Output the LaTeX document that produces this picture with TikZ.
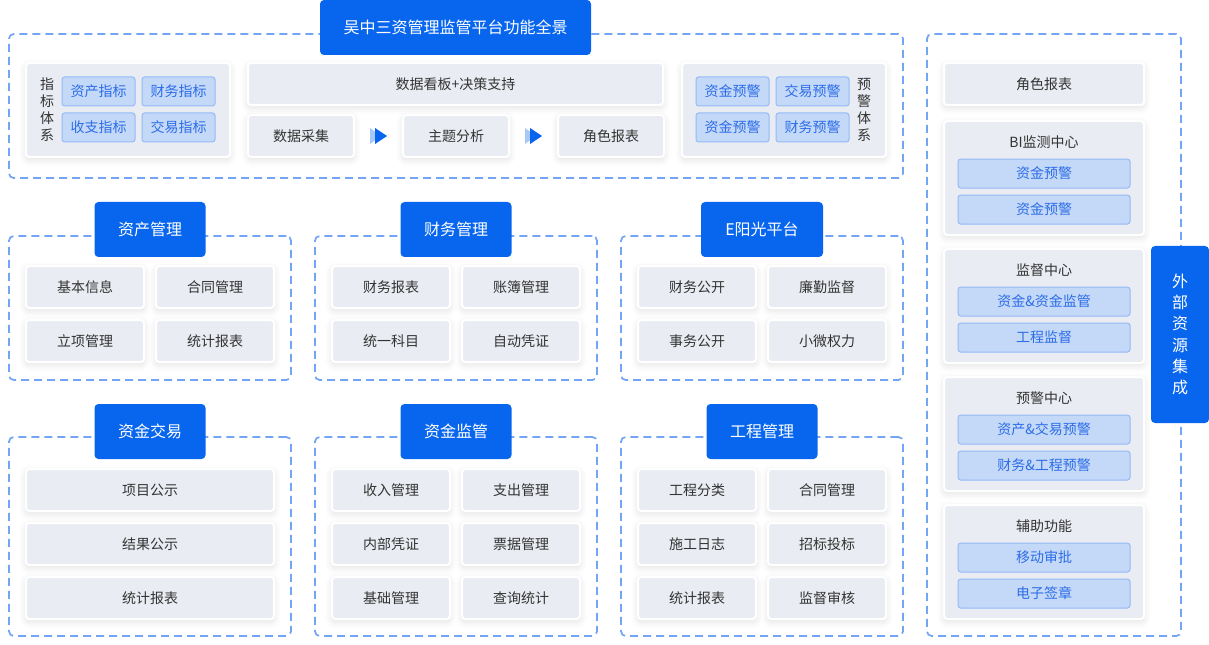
\documentclass[tikz,border=0pt]{standalone}
\usepackage{fontspec}
\setmainfont{Noto Sans CJK SC}
\usetikzlibrary{positioning, calc, shadows.blur}
\definecolor{HeadBlue}{HTML}{0866EE}
\definecolor{DashBlue}{HTML}{74A5F4}
\definecolor{CellGray}{HTML}{E9ECF2}
\definecolor{ChipFill}{HTML}{C4D8F7}
\definecolor{ChipLine}{HTML}{94BAF6}
\definecolor{ChipText}{HTML}{2C6DE8}
\definecolor{TextDark}{HTML}{333333}
\definecolor{TipLight}{HTML}{A9C8F8}

\begin{document}
\begin{tikzpicture}[
    x=0.75pt, y=-0.75pt,
    node distance=9pt,
    every node/.style={outer sep=0pt},
    frame/.style={draw=DashBlue, line width=1.3pt, dash pattern=on 6pt off 3.75pt, rounded corners=3.5pt},
    head/.style={fill=HeadBlue, rounded corners=3pt, minimum width=83.25pt, minimum height=41.25pt, text=white, font=\fontsize{12pt}{14pt}\selectfont},
    cell/.style={fill=CellGray, draw=white, line width=1.5pt, rounded corners=2.5pt, minimum width=88.5pt, minimum height=31.5pt, text=TextDark, font=\fontsize{10.5pt}{12pt}\selectfont,
        blur shadow={shadow xshift=0pt, shadow yshift=-2pt, shadow blur radius=5pt, shadow opacity=12}},
    widecell/.style={cell, minimum width=186pt},
    panel/.style={cell, minimum width=150pt, minimum height=85.5pt},
    chip/.style={fill=ChipFill, draw=ChipLine, line width=0.75pt, rounded corners=2pt, minimum width=54.75pt, minimum height=21.75pt, text=ChipText, font=\fontsize{10.5pt}{12pt}\selectfont},
    longchip/.style={chip, minimum width=129pt},
    vtext/.style={align=center, text=TextDark, font=\fontsize{10.5pt}{12.75pt}\selectfont},
    flowtip/.pic={
        \fill[TipLight] (-8.5,-8) -- (2.5,0) -- (-8.5,8) -- cycle;
        \fill[HeadBlue] (-3.5,-8) -- (8.5,0) -- (-3.5,8) -- cycle;
    }
]
\useasboundingbox (0,0) rectangle (1209,645);

% top overview
\node[frame, minimum width=670.5pt, minimum height=108pt] (topfr) at (456,106) {};
\node[head, minimum width=203.25pt] (title) at (455.5,27.5) {吴中三资管理监管平台功能全景};

\node[panel, minimum width=153pt, minimum height=70.5pt] (idxpanel) at (128,110) {};
\node[vtext] (idxlabel) at (47,110) {指\\标\\体\\系};
\node[chip] (idx1) at (98.5,91.5) {资产指标};
\node[chip, right=5.25pt of idx1] (idx2) {财务指标};
\node[chip, below=5.25pt of idx1] (idx3) {收支指标};
\node[chip, below=5.25pt of idx2] (idx4) {交易指标};

\node[cell, minimum width=311.25pt] (board) at (455.5,84) {数据看板+决策支持};
\node[cell, minimum width=79.5pt] (collect) at (301,136) {数据采集};
\node[cell, minimum width=79.5pt] (topic) at (456,136) {主题分析};
\node[cell, minimum width=79.5pt] (rolerep) at (611,136) {角色报表};
\path (collect) -- coordinate[midway] (tip1) (topic);
\path (topic) -- coordinate[midway] (tip2) (rolerep);
\pic at (tip1) {flowtip};
\pic at (tip2) {flowtip};

\node[panel, minimum width=153pt, minimum height=70.5pt] (warnpanel) at (784,110) {};
\node[vtext] (warnlabel) at (864,110) {预\\警\\体\\系};
\node[chip] (warn1) at (732.5,91.5) {资金预警};
\node[chip, right=5.25pt of warn1] (warn2) {交易预警};
\node[chip, below=5.25pt of warn1] (warn3) {资金预警};
\node[chip, below=5.25pt of warn2] (warn4) {财务预警};

% first row of groups
\node[frame, minimum width=211.5pt, minimum height=108pt] (assetfr) at (150,308) {};
\node[frame, minimum width=211.5pt, minimum height=108pt] (financefr) at (456,308) {};
\node[frame, minimum width=211.5pt, minimum height=108pt] (sunfr) at (762,308) {};
\node[head] (asset) at (150,229.5) {资产管理};
\node[head] (finance) at (456,229.5) {财务管理};
\node[head, minimum width=91.5pt] (sun) at (762,229.5) {E阳光平台};

\node[cell] (a1) at (85,287) {基本信息};
\node[cell, right=of a1] (a2) {合同管理};
\node[cell, below=of a1] (a3) {立项管理};
\node[cell, below=of a2] (a4) {统计报表};

\node[cell] (f1) at (391,287) {财务报表};
\node[cell, right=of f1] (f2) {账簿管理};
\node[cell, below=of f1] (f3) {统一科目};
\node[cell, below=of f2] (f4) {自动凭证};

\node[cell] (s1) at (697,287) {财务公开};
\node[cell, right=of s1] (s2) {廉勤监督};
\node[cell, below=of s1] (s3) {事务公开};
\node[cell, below=of s2] (s4) {小微权力};

% second row of groups
\node[frame, minimum width=211.5pt, minimum height=149.25pt] (tradefr) at (150,536.5) {};
\node[frame, minimum width=211.5pt, minimum height=149.25pt] (fundfr) at (456,536.5) {};
\node[frame, minimum width=211.5pt, minimum height=149.25pt] (projfr) at (762,536.5) {};
\node[head] (trade) at (150,431.5) {资金交易};
\node[head] (fund) at (456,431.5) {资金监管};
\node[head] (proj) at (762,431.5) {工程管理};

\node[widecell] (t1) at (150,490) {项目公示};
\node[widecell, below=of t1] (t2) {结果公示};
\node[widecell, below=of t2] (t3) {统计报表};

\node[cell] (m1) at (391,490) {收入管理};
\node[cell, right=of m1] (m2) {支出管理};
\node[cell, below=of m1] (m3) {内部凭证};
\node[cell, below=of m2] (m4) {票据管理};
\node[cell, below=of m3] (m5) {基础管理};
\node[cell, below=of m4] (m6) {查询统计};

\node[cell] (p1) at (697,490) {工程分类};
\node[cell, right=of p1] (p2) {合同管理};
\node[cell, below=of p1] (p3) {施工日志};
\node[cell, below=of p2] (p4) {招标投标};
\node[cell, below=of p3] (p5) {统计报表};
\node[cell, below=of p4] (p6) {监督审核};

% right column
\node[frame, minimum width=190.5pt, minimum height=451.5pt] (sidefr) at (1054,335) {};
\node[cell, minimum width=150pt] (siderep) at (1044,84) {角色报表};

\node[panel] (bi) at (1044,178) {};
\node[vtext] (bititle) at ([yshift=-15.75pt]bi.north) {BI监测中心};
\node[longchip] (bi1) at ([yshift=-39.4pt]bi.north) {资金预警};
\node[longchip, below=5.25pt of bi1] (bi2) {资金预警};

\node[panel] (sup) at (1044,306) {};
\node[vtext] (suptitle) at ([yshift=-15.75pt]sup.north) {监督中心};
\node[longchip] (sup1) at ([yshift=-39.4pt]sup.north) {资金\&资金监管};
\node[longchip, below=5.25pt of sup1] (sup2) {工程监督};

\node[panel] (alarm) at (1044,434) {};
\node[vtext] (alarmtitle) at ([yshift=-15.75pt]alarm.north) {预警中心};
\node[longchip] (alarm1) at ([yshift=-39.4pt]alarm.north) {资产\&交易预警};
\node[longchip, below=5.25pt of alarm1] (alarm2) {财务\&工程预警};

\node[panel] (aux) at (1044,562) {};
\node[vtext] (auxtitle) at ([yshift=-15.75pt]aux.north) {辅助功能};
\node[longchip] (aux1) at ([yshift=-39.4pt]aux.north) {移动审批};
\node[longchip, below=5.25pt of aux1] (aux2) {电子签章};

\node[head, minimum width=43.5pt, minimum height=132.75pt, align=center, font=\fontsize{12pt}{16pt}\selectfont] (extern) at (1180,334.5) {外\\部\\资\\源\\集\\成};
\end{tikzpicture}
\end{document}
